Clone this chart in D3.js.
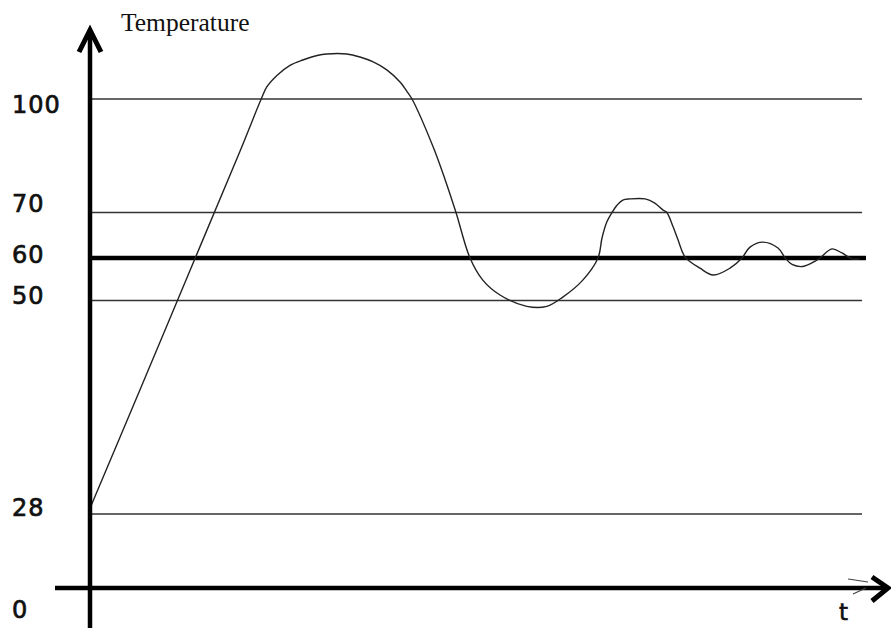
<!DOCTYPE html>
<html>
<head>
<meta charset="utf-8">
<script src="https://cdn.jsdelivr.net/npm/d3@7"></script>
<style>
  html, body { margin: 0; padding: 0; background: #fff; }
  svg { display: block; }
</style>
</head>
<body>
<svg id="chart" width="891" height="628"></svg>
<script>
// ---- data ----
const yTickLabels = [100, 70, 60, 50, 28, 0];
const refLines = [100, 70, 60, 50, 28];
const setPoint = 60;
const timeValues = [0, 6.25, 13.75, 18.75, 21.4, 22.1, 23.4, 25, 26.6, 28.4, 29.6, 32.1, 33.75,
  35.4, 37.1, 38.75, 39.75, 40.25,
  42.9, 44.4, 45.75, 47.5, 49.1, 51.25, 54.6, 57.1, 59.1, 61.6,
  63.5, 64, 64.6, 65.25, 65.9, 66.6, 67.5, 69.4, 70.6, 71.6, 72.1, 72.9, 73.5,
  74.4, 76.25, 77.9, 80, 81.5, 82.5, 84.1, 86, 86.9, 87.75, 89.1, 90.6, 91.25,
  92.75, 94, 95.25, 96.2];
const tempValues = [28.6, 40.8, 62.5, 86.2, 100, 103.2, 106.3, 108.9, 110.3, 111.5, 111.9, 111.9, 111.1,
  109.8, 107.7, 104.5, 101.6, 100,
  87.3, 78.6, 70, 60, 54.8, 51.3, 49.4, 49.4, 50.8, 54.8,
  60, 64.4, 67.9, 70, 72.0, 73.3, 73.6, 73.6, 72.5, 70.7, 70, 66.8, 64.0,
  60.2, 57.6, 56.0, 57.6, 60, 62.4, 63.5, 62.2, 60, 58.5, 58.0, 59.2, 60,
  62.0, 61.1, 59.8, 59.8];
const yTitle = "Temperature";
const xTitle = "t";

// ---- scales ----
const svg = d3.select("#chart");
const x = d3.scaleLinear().domain([0, 100]).range([90, 890]);
// hand-drawn sketch: uneven spacing between the reference levels
const y = d3.scaleLinear()
  .domain([0, 28, 50, 60, 70, 100])
  .range([588, 514, 300.5, 258, 212.5, 99]);

const x0 = x(0), y0 = y(0);

// reference lines
svg.append("g").selectAll("line").data(refLines.filter(d => d !== setPoint)).join("line")
  .attr("x1", x0).attr("x2", 862)
  .attr("y1", d => y(d)).attr("y2", d => y(d))
  .attr("stroke", "#333").attr("stroke-width", 1.5);

svg.append("line")
  .attr("x1", x0).attr("x2", 866)
  .attr("y1", y(setPoint)).attr("y2", y(setPoint))
  .attr("stroke", "#000").attr("stroke-width", 4.5);

// curve
const pts = timeValues.map((t, i) => [t, tempValues[i]]);
svg.append("path")
  .datum(pts)
  .attr("fill", "none")
  .attr("stroke", "#222")
  .attr("stroke-width", 1.4)
  .attr("d", d3.line().x(d => x(d[0])).y(d => y(d[1])).curve(d3.curveCatmullRom.alpha(0.5)));

// axes
svg.append("line").attr("x1", x0).attr("x2", x0).attr("y1", 32).attr("y2", 628)
  .attr("stroke", "#000").attr("stroke-width", 4.5);
svg.append("path")
  .attr("d", `M${x0 - 11},${52} L${x0},${30} L${x0 + 11},${52}`)
  .attr("fill", "none").attr("stroke", "#000").attr("stroke-width", 5)
  .attr("stroke-linejoin", "miter");

svg.append("line").attr("x1", 55).attr("x2", 884).attr("y1", y0).attr("y2", y0)
  .attr("stroke", "#000").attr("stroke-width", 4.5);
svg.append("path")
  .attr("d", `M${872},${y0 - 11} L${888},${y0} L${872},${y0 + 13}`)
  .attr("fill", "none").attr("stroke", "#000").attr("stroke-width", 5)
  .attr("stroke-linejoin", "miter");
svg.append("path")
  .attr("d", `M${848},${y0 - 9} L${868},${y0 - 6} M${853},${y0 + 6} L${866},${y0}`)
  .attr("fill", "none").attr("stroke", "#444").attr("stroke-width", 1.2);

// tick labels
const nudge = {100: 5, 70: -9, 60: -4, 50: -5, 28: -7, 0: 21};
svg.append("g").selectAll("text").data(yTickLabels).join("text")
  .attr("x", 12)
  .attr("y", d => y(d) + nudge[d])
  .attr("dy", "0.36em")
  .attr("font-family", "DejaVu Sans, sans-serif")
  .attr("font-size", 24)
  .attr("letter-spacing", 1)
  .attr("fill", "#111")
  .attr("stroke", "#111")
  .attr("stroke-width", 0.7)
  .text(d => d);

// titles
svg.append("text").attr("x", 121).attr("y", 31)
  .attr("font-family", "Liberation Serif, Times New Roman, serif")
  .attr("font-size", 25.5).attr("fill", "#111").text(yTitle);
svg.append("text").attr("x", 839).attr("y", 620)
  .attr("font-family", "DejaVu Sans, sans-serif")
  .attr("font-size", 23).attr("fill", "#111")
  .attr("stroke", "#111").attr("stroke-width", 0.6).text(xTitle);
</script>
</body>
</html>
